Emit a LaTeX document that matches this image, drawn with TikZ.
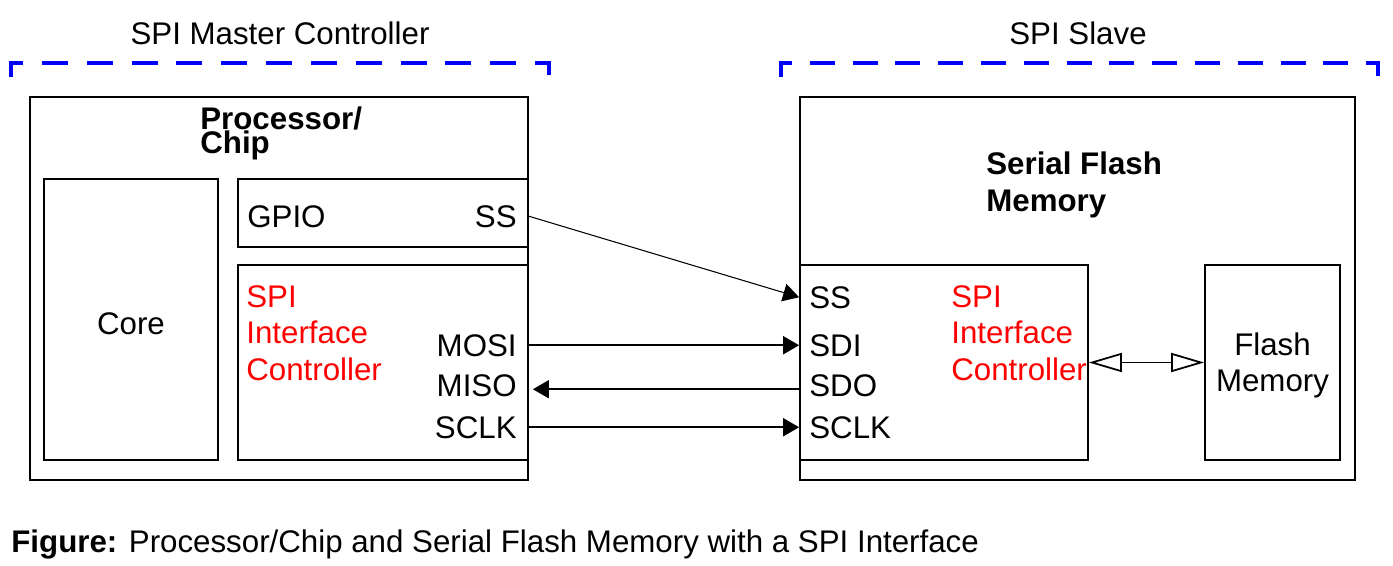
\documentclass[tikz,border=0pt]{standalone}
\usepackage{fontspec}
\setmainfont{Liberation Sans}
\usetikzlibrary{arrows.meta,positioning,fit}
\definecolor{spiblue}{HTML}{0000FF}
\definecolor{spired}{HTML}{FF0000}
\tikzset{>=Latex,box/.style={draw,line width=1pt,inner sep=0pt},txt/.style={inner sep=0pt,font=\fontsize{17.8}{20.5}\selectfont},red/.style={txt,align=left,text=spired},head/.style={txt,align=left,font=\bfseries\fontsize{17.8}{20.5}\selectfont},arr/.style={-{Triangle[length=0.32cm,width=0.36cm]},line width=1pt},dbl/.style={{Triangle[open,length=0.66cm,width=0.38cm]}-{Triangle[open,length=0.66cm,width=0.38cm]},line width=1pt},bracket/.style={spiblue,line width=2.3pt}}

\begin{document}
\begin{tikzpicture}[x=0.02cm,y=-0.02cm]
\useasboundingbox (0,0) rectangle (1393,565);
% dashed brackets
\draw[bracket,dash pattern=on 0.52cm off 0.377cm] (11,77) |- (549,63) -- (549,77);
\draw[bracket,dash pattern=on 0.5cm off 0.356cm] (781,77) |- (1378,63) -- (1378,77);
\node[txt,anchor=base] (mtitle) at (280,44) {SPI Master Controller};
\node[txt,anchor=base] (stitle) at (1078,44) {SPI Slave};
% master side
\node[box,fit={(30,97) (528,480)}] (master) {};
\node[box,fit={(44,179) (218,460)}] (core) {};
\node[txt] at ([yshift=-4*0.02cm]core.center) {Core};
\node[box,fit={(238,179) (528,247)}] (gpio) {};
\node[box,fit={(238,265) (528,460)}] (spim) {};
\node[head,anchor=base west] (proc) at (200,153) {Processor/\\[-6.9pt]Chip};
\node[txt,anchor=base west] (gpiol) at (247,227) {GPIO};
\node[txt,anchor=base east] (ssm) at (517,227) {SS};
\node[red,anchor=base west] (ctrlm) at (246,380) {SPI\\Interface\\Controller};
\node[txt,anchor=base east] (mosi) at (517,356) {MOSI};
\node[txt,anchor=base east] (miso) at (517,396) {MISO};
\node[txt,anchor=base east] (sclkm) at (517,438) {SCLK};
% slave side
\node[box,fit={(800,97) (1355,480)}] (slave) {};
\node[box,fit={(800,265) (1088,460)}] (spis) {};
\node[box,fit={(1205,265) (1340,460)}] (flash) {};
\node[head,anchor=base west] (sfm) at (986,211) {Serial Flash\\Memory};
\node[txt,anchor=base west] (sss) at (809,308) {SS};
\node[txt,anchor=base west] (sdi) at (809,356) {SDI};
\node[txt,anchor=base west] (sdo) at (809,396) {SDO};
\node[txt,anchor=base west] (sclks) at (809,438) {SCLK};
\node[red,anchor=base west] (ctrls) at (951,380) {SPI\\Interface\\Controller};
\node[txt,align=center] (fml) at ([yshift=-3*0.02cm]flash.center) {Flash\\Memory};
% signals
\draw[arr,line width=0.6pt] (ssm -| gpio.east) -- (sss -| spis.west);
\draw[arr] (mosi -| spim.east) -- (sdi -| spis.west);
\draw[arr,shorten >=4*0.02cm] ([yshift=-4*0.02cm]sdo -| spis.west) -- ([yshift=-4*0.02cm]miso -| spim.east);
\draw[arr] (sclkm -| spim.east) -- (sclks -| spis.west);
\draw[dbl] (spis.east) -- (flash.west);
\node[txt,anchor=base west] (caption) at (11,552) {\textbf{Figure:} Processor/Chip and Serial Flash Memory with a SPI Interface};
\end{tikzpicture}
\end{document}
